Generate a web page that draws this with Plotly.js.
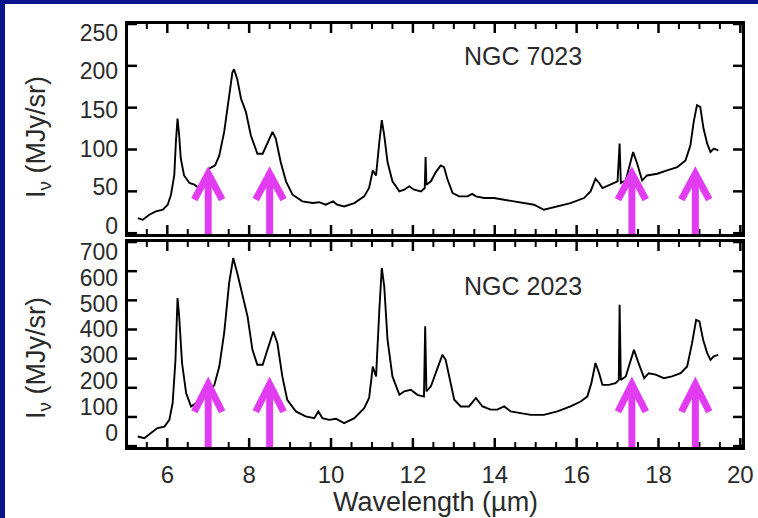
<!DOCTYPE html>
<html>
<head>
<meta charset="utf-8">
<script src="https://cdn.plot.ly/plotly-3.0.1.min.js"></script>
<style>
  html, body { margin: 0; padding: 0; background: white; }
  #chart { width: 758px; height: 518px; }
</style>
</head>
<body>
<div id="chart"></div>
<script>
// ---- Data ----
// NGC 7023 spectrum (top panel)
const ngc7023Wave = [5.28,5.40,5.56,5.72,5.89,6.01,6.09,6.17,6.21,6.25,6.29,6.33,6.41,6.54,6.66,6.78,6.90,7.02,7.17,7.27,7.39,7.51,7.59,7.63,7.71,7.80,7.92,8.04,8.20,8.33,8.45,8.57,8.65,8.77,8.90,9.06,9.30,9.55,9.71,9.87,10.05,10.15,10.32,10.57,10.81,10.93,11.02,11.10,11.18,11.24,11.30,11.38,11.50,11.67,11.79,11.91,12.03,12.20,12.29,12.31,12.33,12.44,12.56,12.68,12.76,12.84,12.97,13.13,13.33,13.45,13.54,13.74,13.98,14.23,14.48,14.72,14.96,15.20,15.53,15.85,16.18,16.34,16.46,16.55,16.63,16.83,17.00,17.05,17.08,17.20,17.32,17.38,17.48,17.60,17.72,17.97,18.21,18.46,18.66,18.78,18.86,18.94,19.02,19.10,19.19,19.27,19.35,19.46];
const ngc7023Flux = [18,16,22,26,28,34,46,69,109,137,117,89,69,60,58,54,65,77,81,93,121,161,192,196,184,161,145,117,95,95,109,121,113,85,62,46,38,36,37,34,38,34,32,36,44,54,75,69,109,135,117,85,62,50,52,56,52,50,54,91,58,62,73,81,79,65,48,44,44,47,44,42,42,40,38,36,34,28,32,36,42,50,65,60,54,58,62,107,60,63,85,97,83,63,69,71,75,79,87,105,133,153,151,125,107,97,101,99];

// NGC 2023 spectrum (bottom panel)
const ngc2023Wave = [5.28,5.44,5.60,5.76,5.93,6.05,6.13,6.20,6.25,6.29,6.36,6.46,6.58,6.70,6.82,6.98,7.15,7.27,7.39,7.51,7.61,7.71,7.84,7.96,8.08,8.20,8.33,8.45,8.59,8.69,8.81,8.93,9.14,9.38,9.59,9.69,9.79,9.95,10.12,10.32,10.57,10.81,10.93,11.02,11.10,11.18,11.24,11.30,11.38,11.50,11.67,11.79,11.95,12.11,12.27,12.30,12.33,12.44,12.56,12.72,12.80,12.89,13.01,13.17,13.37,13.54,13.70,13.90,14.06,14.23,14.39,14.63,14.88,15.20,15.53,15.85,16.10,16.26,16.36,16.46,16.55,16.63,16.79,16.95,17.03,17.05,17.08,17.20,17.32,17.40,17.50,17.65,17.76,17.93,18.13,18.33,18.54,18.70,18.82,18.92,19.00,19.09,19.19,19.27,19.35,19.46];
const ngc2023Flux = [33,27,45,62,67,90,147,296,508,445,285,182,136,147,159,182,210,273,388,559,645,593,513,445,330,279,279,330,393,353,239,159,119,102,96,119,96,90,94,79,96,130,165,273,239,467,611,548,365,239,176,188,193,176,170,411,188,205,250,313,296,239,159,136,136,165,136,125,125,136,119,113,107,107,119,136,153,170,216,285,250,210,210,216,227,485,227,239,296,330,290,233,250,245,233,239,250,273,353,433,428,365,319,296,308,313];

// Arrow positions (wavelengths marked by magenta arrows)
const arrowWave = [7.0, 8.5, 17.35, 18.9];
const arrowTop = {tip: 71, head: 40};
const arrowBottom = {tip: 212, head: 118};

// Panel labels and titles
const panelLabels = ['NGC 7023', 'NGC 2023'];
const yTitleText = 'I<sub>ν</sub> (MJy/sr)';
const xTitleText = 'Wavelength (µm)';

// Axis tick values
const yTopTicks = [0, 50, 100, 150, 200, 250];
const yBottomTicks = [0, 100, 200, 300, 400, 500, 600, 700];
const xTicks = [6, 8, 10, 12, 14, 16, 18, 20];
const xMinorTicks = [5.5, 6.5, 7, 7.5, 8.5, 9, 9.5, 10.5, 11, 11.5, 12.5, 13, 13.5, 14.5, 15, 15.5, 16.5, 17, 17.5, 18.5, 19, 19.5];

// ---- Layout ----
const FONT = 'Liberation Sans, Arial, Helvetica, sans-serif';
const TXT = '#2a2a2a';
const MAG = '#e23cf2';
const BLUE = '#0a148c';

const lineStyle = {color: 'black', width: 1.9};

const traces = [
  {x: ngc7023Wave, y: ngc7023Flux, xaxis: 'x', yaxis: 'y', type: 'scatter', mode: 'lines',
   line: lineStyle, hoverinfo: 'skip', showlegend: false},
  {x: ngc2023Wave, y: ngc2023Flux, xaxis: 'x2', yaxis: 'y2', type: 'scatter', mode: 'lines',
   line: lineStyle, hoverinfo: 'skip', showlegend: false},
  // empty traces so the label-only overlay axes are drawn
  {x: [null], y: [null], xaxis: 'x', yaxis: 'y3', type: 'scatter', mode: 'lines', hoverinfo: 'skip', showlegend: false},
  {x: [null], y: [null], xaxis: 'x2', yaxis: 'y4', type: 'scatter', mode: 'lines', hoverinfo: 'skip', showlegend: false}
];

const frame = {
  showline: true, linewidth: 3, linecolor: 'black', mirror: true,
  ticks: '', showgrid: false, zeroline: false
};

const xBase = Object.assign({}, frame, {
  range: [5.04, 20.04], tickmode: 'array', tickvals: xTicks,
  tickfont: {family: FONT, size: 24, color: TXT}
});

// Label-only overlay axes place the y tick labels where the reference draws them
function labelAxis(overlay, anchor, domain, range, vals) {
  return {overlaying: overlay, anchor: anchor, side: 'left', domain: domain, range: range,
    tickmode: 'array', tickvals: vals, ticks: '', showline: false, showgrid: false, zeroline: false,
    ticklabelstandoff: 9, tickfont: {family: FONT, size: 23, color: TXT}};
}

const TOP_H = 210, BOT_H = 205, PLOT_W = 614;   // panel sizes in px (for tick lengths)
const MAJ = 9, MIN = 5;

// blue slide border (left and top strips)
const shapes = [
  {type: 'rect', xref: 'paper', yref: 'paper', x0: -0.25, x1: -0.2003, y0: -0.2, y1: 1.1,
   fillcolor: BLUE, line: {width: 0}, layer: 'below'},
  {type: 'rect', xref: 'paper', yref: 'paper', x0: -0.25, x1: 1.05, y0: 1.0473, y1: 1.1,
   fillcolor: BLUE, line: {width: 0}, layer: 'below'}
];

// inward tick marks on all four sides of each panel
function addTicks(xa, ya, yVals, panelH) {
  const xTickSet = [[xTicks, MAJ, 2.5], [xMinorTicks, MIN, 2]];
  xTickSet.forEach(([vals, len, w]) => vals.forEach(v => {
    shapes.push({type: 'line', xref: xa, yref: ya + ' domain', x0: v, x1: v, y0: 0, y1: len / panelH, line: {color: 'black', width: w}});
    shapes.push({type: 'line', xref: xa, yref: ya + ' domain', x0: v, x1: v, y0: 1, y1: 1 - len / panelH, line: {color: 'black', width: w}});
  }));
  yVals.forEach(v => {
    shapes.push({type: 'line', xref: xa + ' domain', yref: ya, x0: 0, x1: MAJ / PLOT_W, y0: v, y1: v, line: {color: 'black', width: 2.5}});
    shapes.push({type: 'line', xref: xa + ' domain', yref: ya, x0: 1, x1: 1 - MAJ / PLOT_W, y0: v, y1: v, line: {color: 'black', width: 2.5}});
  });
}
addTicks('x', 'y', yTopTicks, TOP_H);
addTicks('x2', 'y2', yBottomTicks, BOT_H);

function addArrows(xref, yref, spec, dx) {
  arrowWave.forEach(w => {
    shapes.push({type: 'line', xref, yref, x0: w, x1: w, y0: -50, y1: spec.tip,
      line: {color: MAG, width: 7}});
    shapes.push({type: 'path', xref, yref,
      path: `M ${w - dx},${spec.head} L ${w},${spec.tip} L ${w + dx},${spec.head}`,
      line: {color: MAG, width: 7}});
  });
}
addArrows('x', 'y', arrowTop, 0.34);
addArrows('x2', 'y2', arrowBottom, 0.34);

const titleFont = {family: FONT, size: 27, color: TXT};

const layout = {
  width: 758, height: 518,
  margin: {l: 128, r: 16, t: 24, b: 71},
  paper_bgcolor: 'white',
  plot_bgcolor: 'white',
  showlegend: false,
  xaxis: Object.assign({}, xBase, {anchor: 'y', showticklabels: false}),
  xaxis2: Object.assign({}, xBase, {anchor: 'y2', matches: 'x', ticklabelstandoff: 4}),
  yaxis: Object.assign({}, frame, {domain: [0.5035, 1], range: [-1, 250], tickmode: 'array', tickvals: yTopTicks,
    showticklabels: false}),
  yaxis2: Object.assign({}, frame, {domain: [0, 0.4846], range: [-3, 700], tickmode: 'array', tickvals: yBottomTicks,
    showticklabels: false}),
  yaxis3: labelAxis('y', 'x', [0.5035, 1], [-10.3, 261.0], yTopTicks),
  yaxis4: labelAxis('y2', 'x2', [0, 0.4846], [-56.2, 738.8], yBottomTicks),
  shapes: shapes,
  annotations: [
    {text: panelLabels[0], xref: 'x domain', yref: 'y domain', x: 0.643, y: 0.848, showarrow: false,
     xanchor: 'center', yanchor: 'middle', font: {family: FONT, size: 25, color: TXT}},
    {text: panelLabels[1], xref: 'x2 domain', yref: 'y2 domain', x: 0.643, y: 0.785, showarrow: false,
     xanchor: 'center', yanchor: 'middle', font: {family: FONT, size: 25, color: TXT}},
    {text: yTitleText, xref: 'paper', yref: 'paper', x: -0.1466, y: 0.733, textangle: -90, showarrow: false,
     xanchor: 'center', yanchor: 'middle', font: titleFont},
    {text: yTitleText, xref: 'paper', yref: 'paper', x: -0.1466, y: 0.2104, textangle: -90, showarrow: false,
     xanchor: 'center', yanchor: 'middle', font: titleFont},
    {text: xTitleText, xref: 'paper', yref: 'paper', x: 0.5, y: -0.1678, showarrow: false, borderpad: 0,
     xanchor: 'center', yanchor: 'bottom', font: {family: FONT, size: 27, color: TXT}}
  ]
};

Plotly.newPlot('chart', traces, layout, {staticPlot: true, displayModeBar: false});
</script>
</body>
</html>
